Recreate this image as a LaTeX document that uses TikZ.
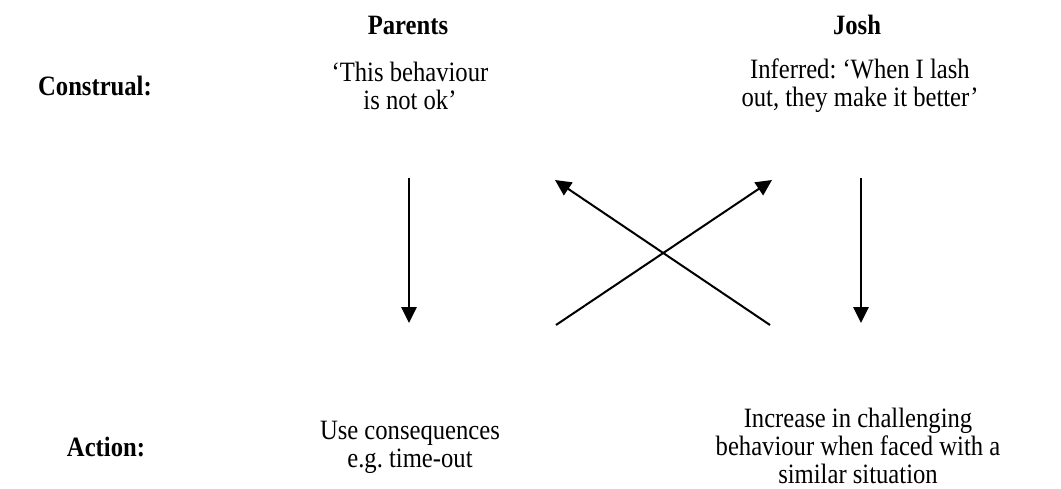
\documentclass[tikz,border=0pt]{standalone}
\usepackage{fontspec}
\setmainfont{Liberation Serif}[FakeStretch=0.88]
\usepackage{tikz}
\usetikzlibrary{arrows.meta}
\frenchspacing

\begin{document}
\begin{tikzpicture}[x=0.75pt, y=-0.75pt,
  txt/.style={align=center, font=\fontsize{21}{21}\selectfont},
  kopf/.style={font=\fontsize{21}{21}\selectfont\bfseries},
  pfeil/.style={line width=1.5pt, -{Triangle[length=12pt,width=11.5pt]}}]
  \useasboundingbox (0,0) rectangle (1061,489);

  % Spaltenköpfe
  \node[kopf] (parents) at (408,25) {Parents};
  \node[kopf] (josh) at (857,25) {Josh};

  % Zeilenköpfe
  \node[kopf] (construal) at (95,86) {Construal:};
  \node[kopf] (action) at (106,447) {Action:};

  % Deutung
  \node[txt] (pdeut) at (410,86) {`This behaviour\\is not ok'};
  \node[txt] (jdeut) at (860,86) {Inferred: `When I lash\\out, they make it better'};

  % Handlung
  \node[txt] (phand) at (410,447) {Use consequences\\e.g. time-out};
  \node[txt] (jhand) at (858,446) {Increase in challenging\\behaviour when faced with a\\similar situation};

  % Pfeilenden
  \coordinate (p1) at (409,178);
  \coordinate (p2) at (409,323);
  \coordinate (j1) at (861,178);
  \coordinate (j2) at (861,323);
  \coordinate (k1) at (556,325);
  \coordinate (k2) at (772,180);
  \coordinate (k3) at (770,325);
  \coordinate (k4) at (555,180);

  % Pfeile
  \draw[pfeil] (p1) -- (p2);
  \draw[pfeil] (j1) -- (j2);
  \draw[pfeil] (k1) -- (k2);
  \draw[pfeil] (k3) -- (k4);

\end{tikzpicture}
\end{document}
